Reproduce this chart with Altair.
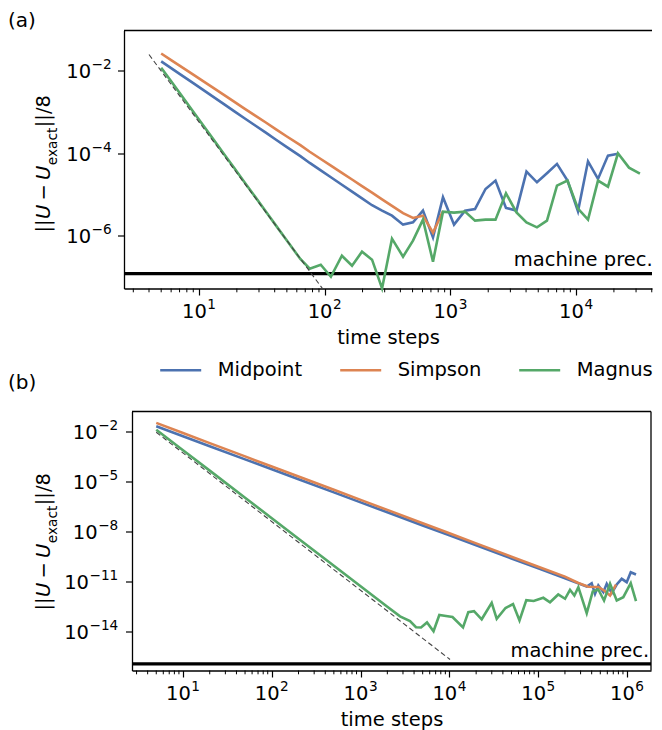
import altair as alt
import pandas as pd

FONT = "DejaVu Sans"
methods = ["Midpoint", "Simpson", "Magnus"]
colors = ["#4C72B0", "#DD8452", "#55A868"]

# ---------------- panel (a) ----------------
a_mid_N = [5, 6, 7, 9, 11, 13, 16, 19, 23, 28, 34, 41, 50, 64, 76, 93, 112, 137, 165, 198,
           238, 286, 343, 420, 504, 605, 727, 873, 1069, 1307, 1570, 1903, 2285, 2768, 3356,
           4030, 4884, 5866, 7047, 8545, 10353, 12443, 14939, 17939, 21544]
a_mid_err = [1.67e-2, 1.14e-2, 8.3e-3, 4.95e-3, 3.26e-3, 2.3e-3, 1.49e-3, 1.04e-3, 7.0e-4, 4.67e-4,
             3.13e-4, 2.1e-4, 1.4e-4, 8.45e-5, 5.78e-5, 3.81e-5, 2.6e-5, 1.71e-5, 1.17e-5, 7.98e-6,
             5.46e-6, 4.04e-6, 3.05e-6, 1.85e-6, 2.1e-6, 4.04e-6, 9.1e-7, 8.5e-6, 1.85e-6, 4.04e-6,
             4.43e-6, 1.35e-5, 2.16e-5, 4.7e-6, 4.04e-6, 3.56e-5, 1.96e-5, 3.24e-5, 5.47e-5, 2.16e-5,
             3.88e-6, 6.32e-5, 2.37e-5, 8.7e-5, 9.6e-5]
a_sim_N = [5, 6, 7, 9, 11, 13, 16, 19, 23, 28, 34, 41, 50, 64, 76, 93, 112, 137, 165, 198,
           238, 286, 343, 420, 504, 605, 727, 873]
a_sim_err = [2.59e-2, 1.79e-2, 1.32e-2, 7.96e-3, 5.32e-3, 3.81e-3, 2.51e-3, 1.76e-3, 1.2e-3, 8.1e-4,
             5.52e-4, 3.76e-4, 2.52e-4, 1.56e-4, 1.08e-4, 7.2e-5, 4.98e-5, 3.31e-5, 2.29e-5, 1.58e-5,
             1.1e-5, 7.6e-6, 5.25e-6, 3.51e-6, 2.69e-6, 3.05e-6, 1.18e-6, 3.93e-6]
a_mag_N = [5, 6, 7, 9, 11, 13, 16, 19, 23, 28, 34, 41, 50, 64, 76, 93, 112, 137, 165, 198,
           238, 286, 343, 420, 504, 605, 727, 873, 1069, 1307, 1570, 1903, 2285, 2768, 3356,
           4030, 4884, 5866, 7047, 8545, 10353, 12443, 14939, 17939, 21544, 26354, 32211]
a_mag_err = [1.17e-2, 5.5e-3, 2.9e-3, 1.0e-3, 4.35e-4, 2.15e-4, 9.0e-5, 4.4e-5, 1.97e-5, 8.7e-6,
             3.85e-6, 1.75e-6, 7.6e-7, 2.72e-7, 1.58e-7, 1.98e-7, 1.01e-7, 3.27e-7, 1.87e-7, 4.09e-7,
             2.62e-7, 5.3e-8, 8.45e-7, 3.1e-7, 7.6e-7, 2.44e-6, 2.34e-7, 3.82e-6, 3.61e-6, 3.82e-6,
             2.31e-6, 2.44e-6, 2.44e-6, 1.06e-5, 3.67e-6, 2.1e-6, 1.59e-6, 2.31e-6, 1.63e-5, 2.16e-5,
             4.52e-6, 2.44e-6, 2.16e-5, 1.54e-5, 9.9e-5, 4.45e-5, 3.18e-5]
a_ref_N = [4, 95.7]
a_ref_err = [2.44e-2, 5.3e-8]
a_prec = 1.2e-7
a_xmajor = [10, 100, 1000, 10000]
a_xexp = ["1", "2", "3", "4"]
a_xminor = [3, 4, 5, 6, 7, 8, 9, 20, 30, 40, 50, 60, 70, 80, 90, 200, 300, 400, 500, 600, 700,
            800, 900, 2000, 3000, 4000, 5000, 6000, 7000, 8000, 9000, 20000, 30000, 40000]
a_yticks = [1e-6, 1e-4, 1e-2]
a_yexp = ["\u22126", "\u22124", "\u22122"]
a_xdomain = [2.53, 40180]
a_ydomain = [5.25e-8, 0.0933]

# ---------------- panel (b) ----------------
b_mid_N = [5, 10, 20, 50, 100, 200, 500, 1000, 2000, 5000, 10000, 20000, 50000, 100000, 200000,
           351800, 400000, 436000, 475400, 541000, 590600, 672400, 765600, 871500, 992000,
           1101000, 1262000]
b_mid_err = [2.05e-2, 5.19e-3, 1.31e-3, 2.12e-4, 5.4e-5, 1.37e-5, 2.22e-6, 5.57e-7, 1.42e-7, 2.29e-8,
             5.83e-9, 1.49e-9, 2.4e-10, 6.1e-11, 1.56e-11, 5.0e-12, 7.9e-12, 1.83e-12, 5.75e-12,
             2.28e-12, 7.3e-12, 1.99e-12, 6.6e-12, 1.45e-11, 9.1e-12, 3.6e-11, 2.63e-11]
b_sim_N = [5, 10, 20, 50, 100, 200, 500, 1000, 2000, 5000, 10000, 20000, 50000, 100000, 200000,
           283000, 365600, 475400, 551000, 644000, 751600]
b_sim_err = [3.28e-2, 8.1e-3, 2.01e-3, 3.2e-4, 7.9e-5, 2.0e-5, 3.18e-6, 7.9e-7, 1.98e-7, 3.1e-8,
             7.8e-9, 1.93e-9, 3.08e-10, 7.6e-11, 1.97e-11, 8.1e-12, 4.8e-12, 4.68e-12, 2.88e-12,
             1.45e-12, 6.6e-12]
b_mag_N = [5, 10, 20, 50, 100, 200, 500, 1000, 2000, 2780, 3600, 4205, 4790, 5595, 6625, 7700,
           9155, 10835, 14230, 16330, 18920, 23100, 29940, 34100, 42840, 52040, 61560, 73440,
           88940, 114100, 135800, 168000, 200500, 228100, 255300, 283000, 351800,
           411100, 475400, 551000, 644000, 766000, 908000, 1101000, 1262000]
b_mag_err = [1.28e-2, 7.55e-4, 4.5e-5, 1.05e-6, 6.3e-8, 3.7e-9, 8.7e-11, 5.15e-12, 3.08e-13, 8.05e-14,
             4.15e-14, 1.81e-14, 1.74e-14, 3.47e-14, 1.04e-14, 9.8e-14, 8.5e-14, 7.4e-14, 1.74e-14,
             1.44e-13, 1.65e-13, 5.4e-14, 5.27e-13, 5.8e-14, 2.57e-13, 4.47e-13, 4.57e-14, 7.65e-13,
             6.76e-13, 1.05e-12, 5.7e-13, 1.66e-12, 9.2e-13, 3.18e-12, 1.45e-12, 4.55e-12,
             1.25e-13, 2.51e-12, 3.31e-12, 7.24e-13, 7.3e-12, 7.24e-13, 1.14e-12, 7.9e-12, 6.6e-13]
b_ref_N = [5, 10160]
b_ref_err = [8.95e-3, 2.09e-16]
b_prec = 1.15e-16
b_xmajor = [10, 100, 1000, 10000, 100000, 1000000]
b_xexp = ["1", "2", "3", "4", "5", "6"]
b_xminor = [3, 4, 5, 6, 7, 8, 9, 20, 30, 40, 50, 60, 70, 80, 90, 200, 300, 400, 500, 600, 700,
            800, 900, 2000, 3000, 4000, 5000, 6000, 7000, 8000, 9000, 20000, 30000, 40000, 50000,
            60000, 70000, 80000, 90000, 200000, 300000, 400000, 500000, 600000, 700000, 800000,
            900000]
b_yticks = [1e-14, 1e-11, 1e-8, 1e-5, 1e-2]
b_yexp = ["\u221214", "\u221211", "\u22128", "\u22125", "\u22122"]
b_xdomain = [2.666, 1.862e6]
b_ydomain = [4.57e-17, 0.158]

# single view, two independent scale pairs (pixel ranges inside the view)
VW, VH = 528, 640
FS, FE = 19.5, 13.65          # main / superscript font sizes
BASE_W = 2 * 0.636 * FS       # advance of "10"
RAISE = 8.8                   # superscript raise

LEGEND = alt.Legend(orient="none", legendX=34.7, legendY=317.5, direction="horizontal",
                    title=None, symbolType="stroke", symbolSize=1681, symbolStrokeWidth=2.6,
                    labelFontSize=FS, labelFont=FONT, labelColor="black", labelOffset=15,
                    columnPadding=32, labelLimit=200, padding=0)
COLOR = alt.Color("method:N", scale=alt.Scale(domain=methods, range=colors), legend=LEGEND)


def one(text, x, y, size, italic=False, angle=270, align="left"):
    return alt.Chart(pd.DataFrame({"t": [text]})).mark_text(
        align=align, baseline="alphabetic", angle=angle, font=FONT, fontSize=size,
        fontStyle="italic" if italic else "normal", color="black"
    ).encode(x=alt.value(x), y=alt.value(y), text="t:N")


def rule(x, y, x2=None, y2=None, w=1.3):
    enc = {"x": alt.value(x), "y": alt.value(y)}
    if x2 is not None:
        enc["x2"] = alt.value(x2)
    if y2 is not None:
        enc["y2"] = alt.value(y2)
    return alt.Chart(pd.DataFrame({"s": [0]})).mark_rule(color="black", strokeWidth=w).encode(**enc)


def panel(x0, x1, ytop, ybot, xdom, ydom, xmaj, xexp, xmin, yticks, yexp, series, ref, prec,
          prec_xy, lab_x, lab_y0, tag, tag_xy, right_spine, xoff, yoff, ylab_right):
    xs = alt.Scale(type="log", domain=xdom, nice=False, range=[x0, x1])
    ys = alt.Scale(type="log", domain=ydom, nice=False, range=[ybot, ytop])
    xax = alt.Axis(orient="bottom", offset=xoff, values=xmaj, labels=False, tickSize=6.5,
                   tickWidth=1.2, tickColor="black", title="time steps",
                   titleFont=FONT, titleFontSize=FS, titleFontWeight="normal", titleColor="black",
                   titleBaseline="alphabetic", titleY=55, domain=True, domainColor="black",
                   domainWidth=1.3, grid=False)
    yax = alt.Axis(orient="left", offset=yoff, values=yticks, labels=False, tickSize=6.5,
                   tickWidth=1.2, tickColor="black", title=None, domain=True,
                   domainColor="black", domainWidth=1.3, grid=False)
    X = alt.X("N:Q", scale=xs, axis=xax)
    Y = alt.Y("err:Q", scale=ys, axis=yax)

    layers = []
    layers.append(alt.Chart(pd.DataFrame({"err": [prec]})).mark_rule(
        color="black", strokeWidth=3.2).encode(y=Y, x=alt.value(x0), x2=alt.value(x1)))
    for m, (Ns, errs) in zip(methods, series):
        df = pd.DataFrame({"N": Ns, "err": errs, "method": m})
        layers.append(alt.Chart(df).mark_line(strokeWidth=2.6).encode(x=X, y=Y, color=COLOR))
    layers.append(alt.Chart(pd.DataFrame({"N": ref[0], "err": ref[1]})).mark_line(
        color="#444444", strokeWidth=1.1, strokeDash=[5, 3]).encode(x=X, y=Y))
    layers.append(alt.Chart(pd.DataFrame({"N": xmin})).mark_rule(
        color="black", strokeWidth=1.0).encode(x=X, y=alt.value(ybot), y2=alt.value(ybot + 3.8)))
    layers.append(rule(x0, ytop, x2=x1))
    if right_spine:
        layers.append(rule(x1, ytop, y2=ybot))

    # x tick labels 10^k (base + superscript), positioned by the x scale
    exp_w1 = 0.636 * FE
    tot = BASE_W + 0.5 + exp_w1
    xdf = pd.DataFrame({"N": xmaj, "e": xexp})
    layers.append(alt.Chart(xdf).mark_text(
        align="left", baseline="alphabetic", font=FONT, fontSize=FS, color="black",
        dx=-tot / 2).encode(x=X, y=alt.value(ybot + 29), text=alt.value("10")))
    layers.append(alt.Chart(xdf).mark_text(
        align="left", baseline="alphabetic", font=FONT, fontSize=FE, color="black",
        dx=-tot / 2 + BASE_W + 0.5).encode(x=X, y=alt.value(ybot + 29 - RAISE), text="e:N"))

    # y tick labels 10^-k, positioned by the y scale
    for v, e in zip(yticks, yexp):
        ew = FE * (0.838 + 0.636 * (len(e) - 1))
        ex = ylab_right - ew
        ydf = pd.DataFrame({"err": [v], "e": [e]})
        layers.append(alt.Chart(ydf).mark_text(
            align="right", baseline="alphabetic", font=FONT, fontSize=FS, color="black",
            dy=7.5).encode(y=Y, x=alt.value(ex - 0.5), text=alt.value("10")))
        layers.append(alt.Chart(ydf).mark_text(
            align="left", baseline="alphabetic", font=FONT, fontSize=FE, color="black",
            dy=7.5 - RAISE).encode(y=Y, x=alt.value(ex), text="e:N"))

    layers.append(one("machine prec.", prec_xy[0], prec_xy[1], FS, angle=0, align="right"))
    # rotated y label  ||U - U_exact||/8
    y0 = lab_y0
    layers.append(one("||", lab_x, y0, FS))
    layers.append(one("U", lab_x, y0 - 13.4, FS, italic=True))
    layers.append(one("\u2212", lab_x, y0 - 32.0, FS))
    layers.append(one("U", lab_x, y0 - 52.6, FS, italic=True))
    layers.append(one("exact", lab_x + 7.2, y0 - 67.3, FE))
    layers.append(one("||/8", lab_x, y0 - 105.3, FS))
    layers.append(one(tag, tag_xy[0], tag_xy[1], 20, angle=0))
    return alt.layer(*layers)


pa = panel(0, 528, 0, 258, a_xdomain, a_ydomain, a_xmajor, a_xexp, a_xminor, a_yticks, a_yexp,
           [(a_mid_N, a_mid_err), (a_sim_N, a_sim_err), (a_mag_N, a_mag_err)],
           (a_ref_N, a_ref_err), a_prec, (528.7, 235.7), -74.2, 202, "(a)", (-116, -4),
           False, -(VH - 258), 0, -12.3)
pb = panel(8, 527, 381, 640, b_xdomain, b_ydomain, b_xmajor, b_xexp, b_xminor, b_yticks, b_yexp,
           [(b_mid_N, b_mid_err), (b_sim_N, b_sim_err), (b_mag_N, b_mag_err)],
           (b_ref_N, b_ref_err), b_prec, (525.3, 626), -74.2, 580, "(b)", (-116, 358.3),
           True, 0, -8, -5.7)

chart = alt.layer(pa, pb).resolve_scale(x="independent", y="independent").properties(
    width=VW, height=VH, background="white",
    padding={"left": 0, "top": 2.5, "right": 0, "bottom": 0}
).configure_view(stroke="transparent")

chart.save("out.html", embed_options={"renderer": "svg", "actions": False})
